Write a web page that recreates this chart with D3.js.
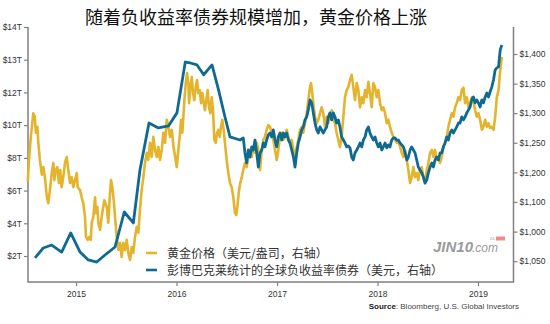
<!DOCTYPE html>
<html>
<head>
<meta charset="utf-8">
<script src="https://cdn.jsdelivr.net/npm/d3@7"></script>
<style>
  body { margin: 0; background: #fff; }
  svg { display: block; }
</style>
</head>
<body>
<script>
// Gold price, USD/oz: [year, price]
var goldSeries = [
  [2014.52,1184],[2014.53,1216],[2014.55,1260],[2014.575,1300],[2014.59,1294],[2014.60,1267],[2014.615,1277],[2014.625,1250],[2014.64,1221],[2014.66,1196],
  [2014.675,1209],[2014.69,1192],[2014.71,1158],[2014.724,1148],[2014.74,1170],[2014.758,1199],[2014.774,1216],[2014.784,1187],[2014.798,1204],[2014.814,1209],
  [2014.83,1182],[2014.843,1204],[2014.857,1175],[2014.873,1192],[2014.89,1216],[2014.907,1226],[2014.923,1204],[2014.94,1182],[2014.957,1192],[2014.973,1175],
  [2014.99,1187],[2015.007,1199],[2015.017,1175],[2015.04,1170],[2015.056,1158],[2015.072,1148],[2015.089,1125],[2015.099,1091],[2015.116,1086],[2015.132,1091],
  [2015.146,1086],[2015.156,1115],[2015.172,1125],[2015.189,1158],[2015.199,1131],[2015.212,1142],[2015.222,1115],[2015.239,1103],[2015.255,1125],[2015.271,1142],
  [2015.281,1153],[2015.305,1142],[2015.321,1115],[2015.338,1165],[2015.348,1187],[2015.361,1175],[2015.378,1148],[2015.388,1125],[2015.405,1091],[2015.421,1069],
  [2015.438,1081],[2015.454,1057],[2015.470,1081],[2015.487,1069],[2015.504,1086],[2015.520,1064],[2015.537,1052],[2015.554,1074],[2015.570,1064],[2015.587,1091],
  [2015.604,1108],[2015.620,1098],[2015.636,1137],[2015.653,1170],[2015.670,1192],[2015.686,1216],[2015.703,1233],[2015.719,1221],[2015.736,1250],[2015.753,1226],
  [2015.769,1260],[2015.786,1238],[2015.803,1226],[2015.819,1243],[2015.836,1221],[2015.853,1238],[2015.869,1267],[2015.886,1250],[2015.903,1289],[2015.920,1277],
  [2015.935,1260],[2015.953,1272],[2015.970,1243],[2015.987,1226],[2016.002,1209],[2016.018,1238],[2016.035,1267],[2016.045,1289],[2016.058,1267],[2016.068,1294],
  [2016.078,1322],[2016.092,1351],[2016.105,1368],[2016.118,1348],[2016.125,1317],[2016.138,1344],[2016.152,1361],[2016.164,1334],[2016.177,1322],[2016.191,1344],
  [2016.204,1356],[2016.217,1334],[2016.231,1339],[2016.244,1317],[2016.257,1334],[2016.271,1317],[2016.283,1305],[2016.296,1322],[2016.310,1339],[2016.323,1310],
  [2016.336,1300],[2016.350,1327],[2016.363,1305],[2016.376,1255],[2016.390,1250],[2016.403,1267],[2016.416,1272],[2016.430,1260],[2016.443,1277],[2016.455,1289],
  [2016.469,1272],[2016.482,1250],[2016.499,1221],[2016.515,1199],[2016.532,1182],[2016.549,1175],[2016.565,1158],[2016.582,1131],[2016.595,1128],[2016.609,1148],
  [2016.622,1170],[2016.634,1182],[2016.649,1192],[2016.664,1204],[2016.681,1216],[2016.698,1209],[2016.714,1226],[2016.731,1238],[2016.748,1226],[2016.764,1243],
  [2016.781,1233],[2016.798,1250],[2016.814,1238],[2016.831,1204],[2016.848,1238],[2016.864,1255],[2016.880,1260],[2016.897,1272],[2016.913,1280],[2016.930,1277],
  [2016.947,1267],[2016.963,1255],[2016.980,1238],[2016.997,1221],[2017.013,1238],[2017.030,1260],[2017.047,1267],[2017.063,1255],[2017.079,1260],[2017.096,1272],
  [2017.113,1260],[2017.129,1250],[2017.146,1255],[2017.163,1238],[2017.179,1226],[2017.196,1243],[2017.212,1255],[2017.229,1272],[2017.246,1277],[2017.261,1267],
  [2017.278,1283],[2017.295,1300],[2017.311,1322],[2017.328,1344],[2017.338,1351],[2017.351,1334],[2017.365,1310],[2017.378,1294],[2017.395,1283],[2017.411,1289],
  [2017.428,1300],[2017.444,1310],[2017.460,1300],[2017.477,1277],[2017.494,1294],[2017.510,1283],[2017.527,1294],[2017.544,1305],[2017.560,1289],[2017.577,1283],
  [2017.593,1267],[2017.610,1255],[2017.626,1243],[2017.643,1260],[2017.660,1294],[2017.676,1327],[2017.693,1339],[2017.709,1344],[2017.726,1356],[2017.743,1365],
  [2017.759,1344],[2017.776,1322],[2017.793,1351],[2017.809,1339],[2017.826,1310],[2017.843,1327],[2017.859,1317],[2017.876,1339],[2017.892,1327],[2017.909,1353],
  [2017.925,1334],[2017.942,1310],[2017.959,1351],[2017.975,1344],[2017.992,1327],[2018.008,1339],[2018.025,1317],[2018.042,1305],[2018.058,1310],[2018.075,1300],
  [2018.092,1283],[2018.108,1289],[2018.124,1277],[2018.141,1267],[2018.158,1260],[2018.174,1255],[2018.191,1250],[2018.207,1255],[2018.224,1243],[2018.241,1233],
  [2018.257,1226],[2018.274,1238],[2018.291,1221],[2018.307,1204],[2018.324,1182],[2018.340,1192],[2018.357,1209],[2018.373,1192],[2018.390,1199],[2018.406,1187],
  [2018.423,1204],[2018.440,1209],[2018.456,1192],[2018.473,1182],[2018.490,1204],[2018.506,1216],[2018.523,1233],[2018.540,1238],[2018.556,1226],[2018.572,1238],
  [2018.589,1221],[2018.606,1226],[2018.622,1216],[2018.639,1226],[2018.655,1243],[2018.672,1250],[2018.689,1260],[2018.705,1277],[2018.722,1289],[2018.739,1300],
  [2018.755,1294],[2018.772,1310],[2018.788,1317],[2018.805,1327],[2018.821,1322],[2018.838,1339],[2018.855,1343],[2018.871,1317],[2018.888,1327],[2018.905,1310],
  [2018.921,1317],[2018.937,1327],[2018.954,1322],[2018.971,1305],[2018.988,1294],[2019.004,1300],[2019.021,1289],[2019.038,1272],[2019.054,1277],[2019.071,1289],
  [2019.088,1277],[2019.104,1283],[2019.121,1275],[2019.137,1277],[2019.154,1272],[2019.171,1294],[2019.187,1327],[2019.204,1339],[2019.221,1373],[2019.237,1395]
];

// Negative-yielding debt, trillion USD: [year, value]
var bondSeries = [
  [2014.592,1.88],[2014.674,2.49],[2014.758,2.67],[2014.857,2.24],[2014.947,3.41],[2015.04,2.24],[2015.122,1.76],[2015.206,1.63],[2015.288,2.06],[2015.388,2.55],
  [2015.480,4.69],[2015.570,4.02],[2015.636,7.26],[2015.726,10.13],[2015.819,9.83],[2015.920,9.95],[2016.004,10.75],[2016.087,12.93],[2016.137,12.90],[2016.204,12.84],
  [2016.270,12.54],[2016.353,12.84],[2016.418,12.08],[2016.482,10.50],[2016.532,9.28],[2016.631,9.09],[2016.664,9.22],[2016.681,8.30],[2016.698,7.69],[2016.714,8.48],
  [2016.731,8.05],[2016.748,8.67],[2016.764,8.48],[2016.781,9.09],[2016.798,8.30],[2016.814,7.44],[2016.831,8.30],[2016.848,8.48],[2016.864,8.91],[2016.880,8.67],
  [2016.897,9.09],[2016.913,9.40],[2016.930,9.52],[2016.947,9.28],[2016.963,9.71],[2016.980,9.09],[2016.997,8.67],[2017.013,9.28],[2017.030,9.52],[2017.047,9.09],
  [2017.063,9.52],[2017.079,9.28],[2017.096,9.52],[2017.113,9.09],[2017.129,8.91],[2017.146,8.48],[2017.163,8.05],[2017.179,7.44],[2017.196,8.30],[2017.212,8.91],
  [2017.229,9.28],[2017.246,9.71],[2017.261,9.89],[2017.278,10.32],[2017.295,10.50],[2017.311,10.93],[2017.328,11.54],[2017.345,11.36],[2017.361,10.75],[2017.378,10.13],
  [2017.395,9.71],[2017.411,9.52],[2017.428,9.89],[2017.444,9.71],[2017.460,9.52],[2017.477,9.71],[2017.494,9.89],[2017.510,10.50],[2017.527,10.75],[2017.544,10.32],
  [2017.560,10.75],[2017.577,10.50],[2017.593,10.13],[2017.610,10.32],[2017.626,9.89],[2017.643,9.28],[2017.660,9.09],[2017.676,8.91],[2017.693,8.67],[2017.709,8.73],
  [2017.726,8.61],[2017.743,8.05],[2017.759,7.87],[2017.776,8.30],[2017.793,8.48],[2017.809,8.67],[2017.826,8.91],[2017.843,8.67],[2017.859,9.09],[2017.876,9.28],
  [2017.892,9.71],[2017.909,9.89],[2017.925,9.52],[2017.942,9.28],[2017.959,9.09],[2017.975,9.28],[2017.992,8.91],[2018.008,8.67],[2018.025,8.91],[2018.042,8.48],
  [2018.058,8.67],[2018.075,8.91],[2018.092,8.61],[2018.108,8.79],[2018.124,8.67],[2018.141,9.09],[2018.158,9.22],[2018.174,9.22],[2018.191,9.09],[2018.207,9.09],
  [2018.224,8.91],[2018.241,8.79],[2018.257,8.67],[2018.274,8.30],[2018.291,7.87],[2018.307,8.05],[2018.324,8.48],[2018.340,8.67],[2018.357,8.48],[2018.373,8.30],
  [2018.390,7.87],[2018.406,7.44],[2018.423,7.26],[2018.440,7.08],[2018.456,6.83],[2018.473,6.46],[2018.490,6.65],[2018.506,7.08],[2018.523,7.44],[2018.540,7.69],
  [2018.556,7.44],[2018.572,7.87],[2018.589,8.05],[2018.606,7.87],[2018.622,8.30],[2018.639,8.30],[2018.655,8.67],[2018.672,8.91],[2018.689,9.28],[2018.705,9.09],
  [2018.722,9.52],[2018.739,9.71],[2018.755,9.52],[2018.772,9.71],[2018.788,9.89],[2018.805,10.13],[2018.821,10.13],[2018.838,10.50],[2018.855,10.32],[2018.871,10.50],
  [2018.888,10.75],[2018.905,10.93],[2018.921,11.11],[2018.937,11.54],[2018.954,11.72],[2018.971,11.36],[2018.988,11.54],[2019.004,11.36],[2019.021,11.11],[2019.038,11.54],
  [2019.054,11.36],[2019.071,11.72],[2019.088,11.97],[2019.104,11.72],[2019.121,12.02],[2019.137,12.17],[2019.154,12.38],[2019.171,12.69],[2019.187,12.75],[2019.204,12.78],
  [2019.221,13.30],[2019.237,13.45]
];

// Axis ticks and labels (as printed in the source chart)
var years = [2015, 2016, 2017, 2018, 2019];
var leftTicks = [2, 4, 6, 8, 10, 12, 13, 14];
var rightTicks = [1050, 1100, 1150, 1200, 1250, 1300, 1350, 1400];
var rightLabels = ["$1,050", "$1,000", "$1,100", "$1,200", "$1,250", "$1,300", "$1,350", "$1,400"];
var legendNames = ["黄金价格（美元/盎司，右轴）", "彭博巴克莱统计的全球负收益率债券（美元，右轴）"];
var title = "随着负收益率债券规模增加，黄金价格上涨";

var goldColor = "#e3b42c";
var blueColor = "#0f6a92";

var W = 550, H = 324;
var mLeft = 28, mRight = 513.5, mTop = 27, mBottom = 282, leftBase = 256;
var labelFont = "'Liberation Sans', Arial, sans-serif";
var cjkFont = "'Noto Sans CJK SC', sans-serif";

var svg = d3.select("body").
  append("svg").
  attr("width", W).
  attr("height", H);

// Scales
var x = d3.scaleLinear().
  domain([2014.522, 2019.353]).
  range([mLeft, mRight]);

// left axis: evenly spaced ticks, piecewise values
var leftStep = (leftBase - mTop) / (leftTicks.length - 1);
var yLeft = d3.scaleLinear().
  domain(leftTicks).
  range(leftTicks.map(function (d, i) {return leftBase - i * leftStep;}));

var yRight = d3.scaleLinear().
  domain([1050, 1400]).
  range([261.2, 54]);

// Title
svg.append("text").
  attr("x", 256).
  attr("y", 24).
  attr("text-anchor", "middle").
  style("font-family", cjkFont).
  style("font-size", "18px").
  style("fill", "#111").
  text(title);

// Frame lines
svg.append("path").
  attr("d", "M" + mLeft + "," + mTop + "V" + mBottom + "H" + mRight + "V" + mTop).
  attr("stroke", "#808080").
  attr("stroke-width", 1.5).
  attr("fill", "none");

// Axes
var xAxis = d3.axisBottom(x).tickValues(years).tickSize(4).tickPadding(5).tickFormat(d3.format("d"));
var yAxisL = d3.axisLeft(yLeft).tickValues(leftTicks).tickSize(4).tickPadding(2).tickFormat(function (d) {return "$" + d + "T";});
var yAxisR = d3.axisRight(yRight).tickValues(rightTicks).tickSize(4).tickPadding(2).tickFormat(function (d, i) {return rightLabels[i];});

function styleAxis(g) {
  g.select(".domain").remove();
  g.selectAll("line").attr("stroke", "#808080").attr("stroke-width", 1.2);
  g.selectAll("text").
    style("font-family", labelFont).
    style("font-size", "8.5px").
    style("fill", "#333");
}

svg.append("g").
  attr("transform", "translate(0," + mBottom + ")").
  call(xAxis).
  call(styleAxis);

svg.append("g").
  attr("transform", "translate(" + mLeft + ",0)").
  call(yAxisL).
  call(styleAxis);

svg.append("g").
  attr("transform", "translate(" + mRight + ",0)").
  call(yAxisR).
  call(styleAxis);

// Lines
var goldLine = d3.line().
  x(function (d) {return x(d[0]);}).
  y(function (d) {return yRight(d[1]);});

var bondLine = d3.line().
  x(function (d) {return x(d[0]);}).
  y(function (d) {return yLeft(d[1]);});

svg.append("path").
  datum(goldSeries).
  attr("d", goldLine).
  attr("fill", "none").
  attr("stroke", goldColor).
  attr("stroke-width", 2.6).
  attr("stroke-linejoin", "round");

svg.append("path").
  datum(bondSeries).
  attr("d", bondLine).
  attr("fill", "none").
  attr("stroke", blueColor).
  attr("stroke-width", 2.8).
  attr("stroke-linejoin", "round");

// Watermark
var wm = svg.append("g").attr("fill", "#8a8a8a").attr("opacity", 0.85);
wm.append("text").
  attr("x", 433).
  attr("y", 252).
  style("font-family", labelFont).
  style("font-size", "15px").
  style("font-weight", "bold").
  style("font-style", "italic").
  text("JIN10");
wm.append("text").
  attr("x", 472).
  attr("y", 252).
  style("font-family", labelFont).
  style("font-size", "12px").
  style("font-style", "italic").
  text(".com");
wm.append("text").
  attr("x", 490).
  attr("y", 239.5).
  style("font-family", labelFont).
  style("font-size", "4px").
  text("24");
svg.append("rect").
  attr("x", 496).
  attr("y", 236.5).
  attr("width", 9).
  attr("height", 4).
  attr("fill", "#f08a8a");

// Legend
var legend = svg.selectAll(".legend").
  data(legendNames).
  enter().append("g").
  attr("class", "legend").
  attr("transform", function (d, i) {return "translate(146," + (253 + i * 17) + ")";});

legend.append("line").
  attr("x1", 0).
  attr("x2", 11).
  attr("stroke", function (d, i) {return i === 0 ? goldColor : blueColor;}).
  attr("stroke-width", 2.6);

legend.append("text").
  attr("x", 21).
  attr("y", 4.5).
  style("font-family", cjkFont).
  style("font-size", "12px").
  style("fill", "#333").
  text(function (d) {return d;});

// Source
var src = svg.append("text").
  attr("x", 519).
  attr("y", 309).
  attr("text-anchor", "end").
  style("font-family", labelFont).
  style("font-size", "8px").
  style("fill", "#444");
src.append("tspan").style("font-weight", "bold").style("fill", "#222").text("Source");
src.append("tspan").text(": Bloomberg, U.S. Global Investors");
</script>
</body>
</html>
